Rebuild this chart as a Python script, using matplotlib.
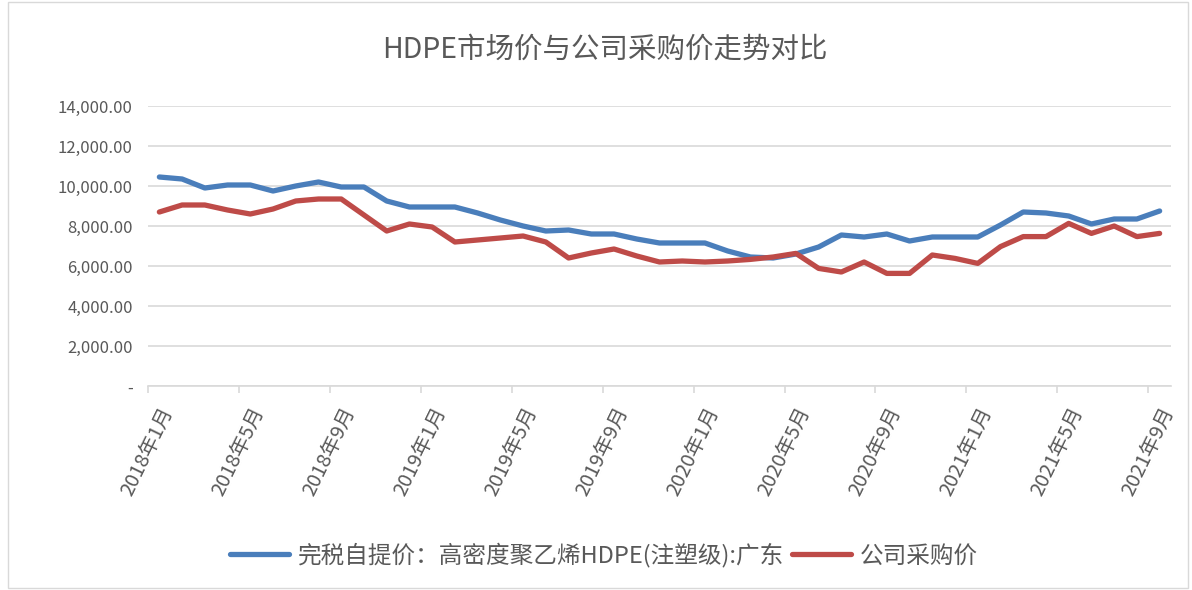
import matplotlib
matplotlib.use("Agg")
import matplotlib.pyplot as plt
from matplotlib.patches import Rectangle
from matplotlib.ticker import FuncFormatter, FixedLocator

plt.rcParams['font.family'] = ['Noto Sans CJK SC', 'DejaVu Sans']

months = [f"{y}年{m}月" for y in (2018, 2019, 2020, 2021) for m in range(1, 13)][:45]

market_price = [10450, 10350, 9900, 10050, 10050, 9750, 10000, 10200, 9950, 9950,
                9250, 8950, 8950, 8950, 8650, 8300, 8000, 7750, 7800, 7600,
                7600, 7350, 7150, 7150, 7150, 6750, 6450, 6400, 6600, 6950,
                7550, 7450, 7600, 7250, 7450, 7450, 7450, 8050, 8700, 8650,
                8500, 8100, 8350, 8350, 8750]

company_price = [8700, 9050, 9050, 8800, 8600, 8850, 9250, 9350, 9350, 8550,
                 7750, 8100, 7950, 7200, 7300, 7400, 7500, 7200, 6400, 6650,
                 6850, 6500, 6200, 6250, 6200, 6250, 6330, 6450, 6630, 5880,
                 5700, 6200, 5630, 5630, 6550, 6380, 6130, 6970, 7470, 7470,
                 8130, 7630, 8000, 7470, 7630]

series_names = ["完税自提价：高密度聚乙烯HDPE(注塑级):广东", "公司采购价"]
title = "HDPE市场价与公司采购价走势对比"
y_ticks = [0, 2000, 4000, 6000, 8000, 10000, 12000, 14000]

fig = plt.figure(figsize=(11.92, 5.90), dpi=100)
ax = fig.add_axes([148/1192, 1-386/590, (1171-148)/1192, (386-106)/590])

x = list(range(len(months)))
ax.plot(x, market_price, color='#4A7EBB', lw=3.8, solid_capstyle='round',
        solid_joinstyle='round', label=series_names[0], zorder=3)
ax.plot(x, company_price, color='#BE4B48', lw=3.8, solid_capstyle='round',
        solid_joinstyle='round', label=series_names[1], zorder=3)

ax.set_xlim(-0.5, len(months) - 0.5)
ax.set_ylim(0, 14000)
ax.set_yticks(y_ticks)
ax.yaxis.set_major_formatter(FuncFormatter(lambda v, p: '-' if v == 0 else f"{v:,.2f}"))
ax.tick_params(axis='y', length=0, labelsize=12, labelcolor='#595959', pad=11)
ax.grid(axis='y', color='#D9D9D9', lw=1.2)
ax.set_axisbelow(True)

label_idx = list(range(0, len(months), 4))
ax.xaxis.set_major_locator(FixedLocator(label_idx))
ax.set_xticklabels([months[i] for i in label_idx])
ax.xaxis.set_minor_locator(FixedLocator([i - 0.5 for i in range(0, len(months) + 1, 4)]))
ax.tick_params(axis='x', which='major', length=0, labelsize=14.5, labelcolor='#595959', pad=13)
ax.tick_params(axis='x', which='minor', length=5, color='#D9D9D9', width=1.2)
for lab in ax.get_xticklabels():
    lab.set_rotation(64)
    lab.set_ha('right')
    lab.set_va('top')
    lab.set_rotation_mode('anchor')

for s in ['top', 'right', 'left']:
    ax.spines[s].set_visible(False)
ax.spines['bottom'].set_color('#D9D9D9')
ax.spines['bottom'].set_linewidth(1.2)

fig.text(605/1192, 1-50/590, title, ha='center', va='center', fontsize=20.5, color='#595959')

leg = fig.legend(loc='center', bbox_to_anchor=(604/1192, 1-555/590), ncol=2, frameon=False,
                 fontsize=17, handlelength=2.5, columnspacing=0.3, handletextpad=0.4)
for t in leg.get_texts():
    t.set_color('#595959')

fig.patches.append(Rectangle((8/1192, 2/590), 1180/1192, 586/590, transform=fig.transFigure,
                             fill=False, edgecolor='#D9D9D9', lw=1))

fig.savefig('out.png', dpi=100)
